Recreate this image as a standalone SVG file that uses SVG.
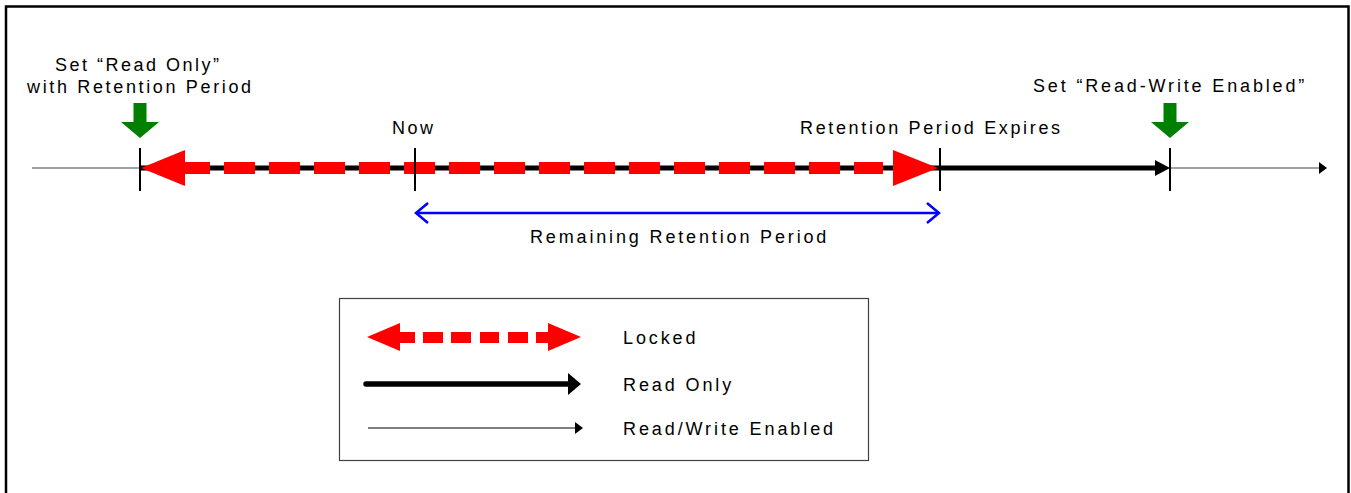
<svg xmlns="http://www.w3.org/2000/svg" width="1351" height="493" viewBox="0 0 1351 493">
<style>
text{font-family:"Liberation Sans",Arial,sans-serif;font-size:18px;letter-spacing:2.5px;fill:#000}
#legend text{letter-spacing:2.9px}
.wide{letter-spacing:2.85px}
.tick{stroke:#000;stroke-width:2}
.red{fill:#ff0000}
.grn{fill:#008000}
</style>
<rect x="6" y="6.5" width="1342.5" height="500" fill="#fff" stroke="#000" stroke-width="2.5"/>

<g id="connectors">
  <!-- thin gray timeline -->
  <line x1="32" y1="168" x2="140" y2="168" stroke="#808080" stroke-width="1.5"/>
  <line x1="1170" y1="168" x2="1320" y2="168" stroke="#808080" stroke-width="1.5"/>
  <polygon points="1319,162 1327,168 1319,174" fill="#000"/>
  <!-- thick read-only line -->
  <line x1="141" y1="168" x2="1158" y2="168" stroke="#000" stroke-width="5"/>
  <polygon points="1155,160 1170,168 1155,176" fill="#000"/>
  <!-- locked red dashed double arrow -->
  <g class="red">
    <polygon points="141,168 185,150 185,186"/>
    <rect x="184" y="162" width="26" height="12"/>
    <rect x="224" y="162" width="31" height="12"/>
    <rect x="269" y="162" width="31" height="12"/>
    <rect x="314" y="162" width="31" height="12"/>
    <rect x="359" y="162" width="31" height="12"/>
    <rect x="404" y="162" width="31" height="12"/>
    <rect x="449" y="162" width="31" height="12"/>
    <rect x="494" y="162" width="31" height="12"/>
    <rect x="539" y="162" width="31" height="12"/>
    <rect x="584" y="162" width="31" height="12"/>
    <rect x="629" y="162" width="31" height="12"/>
    <rect x="674" y="162" width="31" height="12"/>
    <rect x="719" y="162" width="31" height="12"/>
    <rect x="764" y="162" width="31" height="12"/>
    <rect x="809" y="162" width="31" height="12"/>
    <rect x="854" y="162" width="29" height="12"/>
    <polygon points="893,150 938,168 893,186"/>
  </g>
  <!-- blue remaining retention arrow -->
  <g stroke="#0000ff" stroke-width="2.5" fill="none">
    <line x1="416" y1="213" x2="939" y2="213"/>
    <polyline points="428,203 416,213 428,223"/>
    <polyline points="927,203 939,213 927,223"/>
  </g>
</g>

<g id="ticks">
  <line class="tick" x1="140" y1="148" x2="140" y2="191"/>
  <line class="tick" x1="415" y1="148" x2="415" y2="191"/>
  <line class="tick" x1="940" y1="148" x2="940" y2="191"/>
  <line class="tick" x1="1170" y1="148" x2="1170" y2="191"/>
</g>

<g id="set-read-only">
  <rect class="grn" x="133.5" y="103" width="13" height="20"/>
  <polygon class="grn" points="121,122 159,122 140,138"/>
  <text x="55" y="71">Set “Read Only”</text>
  <text x="27" y="93" style="letter-spacing:2.65px">with Retention Period</text>
</g>

<g id="now">
  <text x="392" y="134">Now</text>
</g>

<g id="retention-expires">
  <text x="800" y="134" style="letter-spacing:2.65px">Retention Period Expires</text>
</g>

<g id="set-read-write">
  <rect class="grn" x="1163.5" y="103" width="13" height="20"/>
  <polygon class="grn" points="1151,122 1189,122 1170,138"/>
  <text class="wide" x="1033" y="92">Set “Read-Write Enabled”</text>
</g>

<g id="remaining">
  <text class="wide" x="530" y="243">Remaining Retention Period</text>
</g>

<g id="legend">
  <rect x="339.5" y="298.5" width="529" height="162" fill="none" stroke="#404040" stroke-width="1.2"/>
  <g class="red">
    <polygon points="367,337 400,323 400,351"/>
    <rect x="399" y="332" width="16" height="11"/>
    <rect x="423" y="332" width="20" height="11"/>
    <rect x="451" y="332" width="20" height="11"/>
    <rect x="480" y="332" width="19" height="11"/>
    <rect x="508" y="332" width="20" height="11"/>
    <rect x="536" y="332" width="13" height="11"/>
    <polygon points="548,323 581,337 548,351"/>
  </g>
  <line x1="366" y1="384" x2="570" y2="384" stroke="#000" stroke-width="5.5" stroke-linecap="round"/>
  <polygon points="568,373 581,384 568,395" fill="#000"/>
  <line x1="368" y1="428" x2="577" y2="428" stroke="#000" stroke-width="1.2"/>
  <polygon points="575,422 583,428 575,434" fill="#000"/>
  <text x="623" y="344">Locked</text>
  <text x="623" y="391">Read Only</text>
  <text x="623" y="435">Read/Write Enabled</text>
</g>
</svg>
